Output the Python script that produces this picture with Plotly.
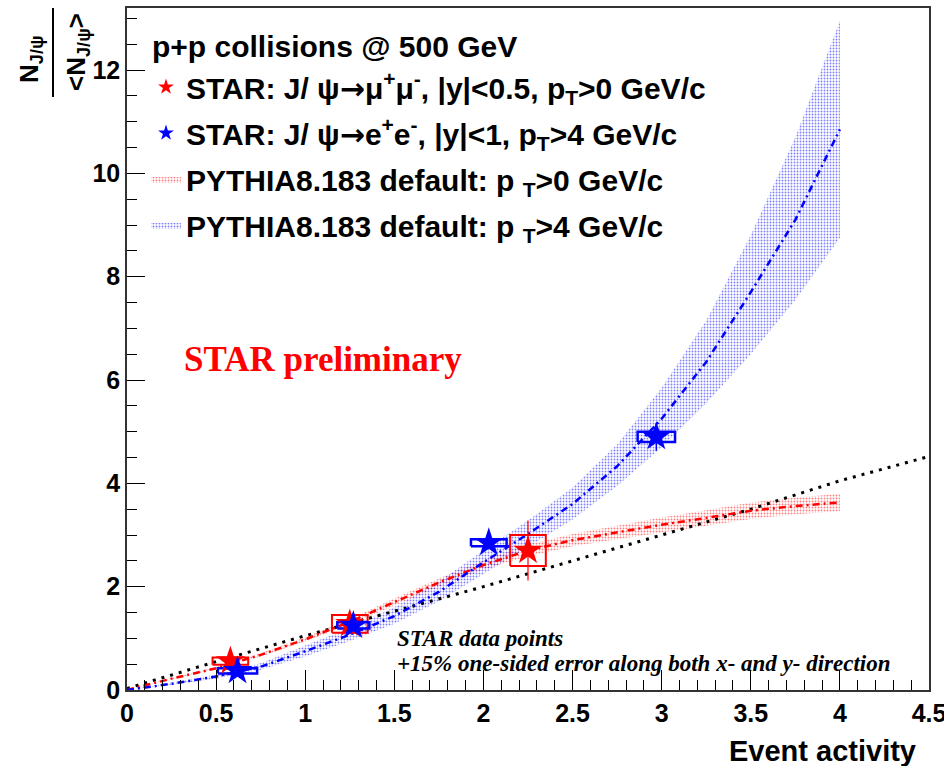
import plotly.graph_objects as go

# ---------------- data ----------------
# PYTHIA8 curves (model)
model_x = [0, 0.25, 0.5, 0.75, 1.0, 1.25, 1.5, 1.75, 2.0, 2.25, 2.5, 2.75, 3.0, 3.25, 3.5, 3.75, 4.0]
pyth_pt0 = [0.0, 0.22, 0.42, 0.68, 0.98, 1.32, 1.70, 2.08, 2.42, 2.70, 2.90, 3.05, 3.20, 3.33, 3.47, 3.56, 3.63]
pyth_pt0_lo = [0.0, 0.21, 0.40, 0.65, 0.94, 1.27, 1.63, 2.00, 2.33, 2.59, 2.78, 2.92, 3.06, 3.18, 3.31, 3.40, 3.46]
pyth_pt0_hi = [0.0, 0.23, 0.44, 0.71, 1.02, 1.37, 1.77, 2.16, 2.51, 2.81, 3.02, 3.18, 3.34, 3.48, 3.63, 3.72, 3.80]

pyth_pt4 = [0.0, 0.12, 0.26, 0.45, 0.75, 1.07, 1.43, 1.90, 2.47, 3.02, 3.60, 4.33, 5.25, 6.35, 7.70, 9.10, 10.85]
pyth_pt4_lo = [0.0, 0.10, 0.22, 0.39, 0.65, 0.95, 1.28, 1.72, 2.25, 2.77, 3.30, 3.95, 4.70, 5.55, 6.50, 7.55, 8.75]
pyth_pt4_hi = [0.0, 0.14, 0.30, 0.52, 0.86, 1.20, 1.60, 2.10, 2.70, 3.28, 3.92, 4.75, 5.85, 7.15, 8.80, 10.70, 12.95]

# reference line (black dotted)
ref_x = [0, 0.5, 1.0, 1.5, 2.0, 2.5, 3.0, 3.5, 4.0, 4.5]
ref_y = [0.03, 0.55, 1.05, 1.52, 2.0, 2.5, 3.0, 3.5, 4.05, 4.52]

# STAR data: J/psi -> mu+mu-, pT>0
mu_x = [0.58, 1.25, 2.25]
mu_y = [0.56, 1.28, 2.70]
mu_stat = [0.05, 0.10, 0.58]
mu_sys_x = [0.10, 0.10, 0.10]
mu_sys_y = [0.07, 0.17, 0.30]

# STAR data: J/psi -> e+e-, pT>4
ee_x = [0.62, 1.27, 2.03, 2.97]
ee_y = [0.37, 1.25, 2.85, 4.90]
ee_stat = [0.06, 0.08, 0.10, 0.27]
ee_sys_x = [0.11, 0.09, 0.10, 0.105]
ee_sys_y = [0.05, 0.06, 0.07, 0.10]

x_ticks = [0, 0.5, 1, 1.5, 2, 2.5, 3, 3.5, 4, 4.5]
y_ticks = [0, 2, 4, 6, 8, 10, 12]

RED = "#ff0000"
BLUE = "#0000ff"
SANS = "Liberation Sans, Arial, sans-serif"
SERIF = "Liberation Serif, Times New Roman, serif"
ARROW = '<span style="font-family:DejaVu Sans;">→</span>'

fig = go.Figure()


def band(x, lo, hi):
    return list(x) + list(x[::-1]), list(hi) + list(lo[::-1])


def boxes(xs, ys, dxs, dys):
    bx, by = [], []
    for x, y, dx, dy in zip(xs, ys, dxs, dys):
        bx += [x - dx, x + dx, x + dx, x - dx, x - dx, None]
        by += [y - dy, y - dy, y + dy, y + dy, y - dy, None]
    return bx, by


bx, by = band(model_x, pyth_pt0_lo, pyth_pt0_hi)
fig.add_trace(go.Scatter(
    x=bx, y=by, mode="lines", fill="toself", line=dict(width=0, color=RED),
    fillcolor="rgba(0,0,0,0)",
    fillpattern=dict(shape=".", fgcolor=RED, size=3, solidity=0.3),
    name="PYTHIA8.183 default: p <sub>T</sub>>0 GeV/c", legendrank=3,
    legendgroup="g3"))
bx, by = band(model_x, pyth_pt4_lo, pyth_pt4_hi)
fig.add_trace(go.Scatter(
    x=bx, y=by, mode="lines", fill="toself", line=dict(width=0, color=BLUE),
    fillcolor="rgba(0,0,0,0)",
    fillpattern=dict(shape=".", fgcolor=BLUE, size=3, solidity=0.3),
    name="PYTHIA8.183 default: p <sub>T</sub>>4 GeV/c", legendrank=4,
    legendgroup="g4"))

fig.add_trace(go.Scatter(x=ref_x, y=ref_y, mode="lines", showlegend=False,
                         line=dict(color="black", width=3, dash="3px,6px")))
fig.add_trace(go.Scatter(x=model_x, y=pyth_pt0, mode="lines", showlegend=False,
                         line=dict(color=RED, width=2.5, dash="7px,4px,2px,4px"),
                         legendgroup="g3"))
fig.add_trace(go.Scatter(x=model_x, y=pyth_pt4, mode="lines", showlegend=False,
                         line=dict(color=BLUE, width=2.5, dash="7px,4px,2px,4px"),
                         legendgroup="g4"))

# systematic boxes
bx, by = boxes(mu_x, mu_y, mu_sys_x, mu_sys_y)
fig.add_trace(go.Scatter(x=bx, y=by, mode="lines", showlegend=False,
                         line=dict(color=RED, width=2), legendgroup="g1"))
bx, by = boxes(ee_x, ee_y, ee_sys_x, ee_sys_y)
fig.add_trace(go.Scatter(x=bx, y=by, mode="lines", showlegend=False,
                         line=dict(color=BLUE, width=2.5), legendgroup="g2"))

# data points
fig.add_trace(go.Scatter(
    x=mu_x, y=mu_y, mode="markers",
    marker=dict(symbol="star", size=22, color=RED),
    error_y=dict(type="data", array=mu_stat, color=RED, thickness=1.2, width=0),
    name="STAR: J/ ψ" + ARROW + "μ<sup>+</sup>μ<sup>-</sup>, |y|<0.5, p<sub>T</sub>>0 GeV/c",
    legendrank=1, legendgroup="g1"))
fig.add_trace(go.Scatter(
    x=ee_x, y=ee_y, mode="markers",
    marker=dict(symbol="star", size=22, color=BLUE),
    error_y=dict(type="data", array=ee_stat, color=BLUE, thickness=1.5, width=0),
    name="STAR: J/ ψ" + ARROW + "e<sup>+</sup>e<sup>-</sup>, |y|<1, p<sub>T</sub>>4 GeV/c",
    legendrank=2, legendgroup="g2"))

# ---------------- layout ----------------
L, R, T, B = 127, 15, 8, 76
W, H = 944, 766
pw, ph = W - L - R, H - T - B


def px(xp):
    return (xp - L) / pw


def py(yp):
    return (H - B - yp) / ph


axis_font = dict(family=SANS, size=25, color="black", weight="bold")
leg_font = dict(family=SANS, size=30, color="black", weight="bold")

fig.update_layout(
    width=W, height=H,
    margin=dict(l=L, r=R, t=T, b=B, autoexpand=False),
    paper_bgcolor="white", plot_bgcolor="white",
    xaxis=dict(range=[0, 4.5], tickvals=x_ticks, ticktext=[f"{v:g}" for v in x_ticks],
               ticks="inside", ticklen=20, tickwidth=1, tickcolor="black",
               minor=dict(dtick=0.1, ticks="inside", ticklen=10, tickcolor="black"),
               showline=True, linecolor="#333", linewidth=1.5, mirror=True,
               showgrid=False, zeroline=False, tickfont=axis_font,
               ticklabeloverflow="allow", automargin=False),
    yaxis=dict(range=[0, 13.2], tickvals=y_ticks, ticktext=[f"{v:g}" for v in y_ticks],
               ticks="inside", ticklen=18, tickwidth=1, tickcolor="black",
               minor=dict(dtick=0.5, ticks="inside", ticklen=10, tickcolor="black"),
               showline=True, linecolor="#333", linewidth=1.5, mirror=True,
               showgrid=False, zeroline=False, tickfont=axis_font, automargin=False),
    legend=dict(x=px(146), y=py(61), xanchor="left", yanchor="top",
                bgcolor="rgba(0,0,0,0)", borderwidth=0,
                font=leg_font,
                traceorder="grouped", tracegroupgap=4, itemsizing="constant"),
    showlegend=True,
)

fig.add_annotation(text="p+p collisions @ 500 GeV", x=px(150), y=py(47), xref="paper", yref="paper",
                   xanchor="left", yanchor="middle", showarrow=False, font=leg_font)
fig.add_annotation(text="STAR preliminary", x=px(323), y=py(359), xref="paper", yref="paper",
                   xanchor="center", yanchor="middle",
                   showarrow=False, font=dict(family=SERIF, size=35, color=RED, weight="bold"))
fig.add_annotation(text="<i>STAR data points</i>",
                   x=px(395), y=py(638), xref="paper", yref="paper", xanchor="left", yanchor="middle",
                   showarrow=False, font=dict(family=SERIF, size=23, color="black", weight="bold"))
fig.add_annotation(text="<i>+15% one-sided error along both x- and y- direction</i>",
                   x=px(395), y=py(663), xref="paper", yref="paper", xanchor="left", yanchor="middle",
                   showarrow=False, font=dict(family=SERIF, size=23, color="black", weight="bold"))
fig.add_annotation(text="Event activity", x=px(918), y=py(751), xref="paper", yref="paper",
                   xanchor="right", yanchor="middle", showarrow=False,
                   font=dict(family=SANS, size=29, color="black", weight="bold"))
# y-axis title as a fraction
fig.add_annotation(text="N<sub>J/ψ</sub>", x=px(30), y=py(59), xref="paper", yref="paper",
                   xanchor="center", yanchor="middle", textangle=-90, showarrow=False,
                   font=dict(family=SANS, size=26, color="black", weight="bold"))
fig.add_annotation(text="<N<sub>J/ψ</sub>>", x=px(77), y=py(52), xref="paper", yref="paper",
                   xanchor="center", yanchor="middle", textangle=-90, showarrow=False,
                   font=dict(family=SANS, size=26, color="black", weight="bold"))
fig.add_shape(type="line", xref="paper", yref="paper", x0=px(53), x1=px(53), y0=py(8), y1=py(97),
              line=dict(color="black", width=2))

fig.write_html("out.html", config={"displayModeBar": False},
               post_script="document.body.style.margin='0px';")
